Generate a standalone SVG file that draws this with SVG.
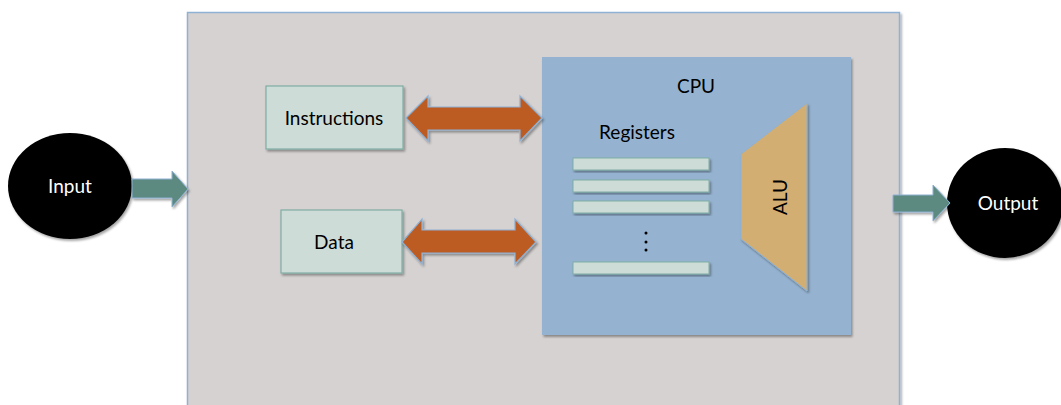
<svg xmlns="http://www.w3.org/2000/svg" width="1061" height="405" viewBox="0 0 1061 405">
<defs>
<filter id="sh" x="-10%" y="-10%" width="130%" height="130%">
<feDropShadow dx="1.5" dy="2" stdDeviation="1.2" flood-color="#000" flood-opacity="0.35"/>
</filter>
</defs>
<style>
.t{font-family:Lato,"Liberation Sans",sans-serif;font-size:19px;fill:#000;text-anchor:middle}
.w{fill:#fff}
.lbox{fill:#cddcd7;stroke:#7fada3;stroke-width:1.2}
.reg{fill:#cddcd7;stroke:#7fada3;stroke-width:1}
.oarr{fill:#bd5b24;stroke:#8fb1d3;stroke-width:1.2}
.tarr{fill:#5b8a80;stroke:#8fb1d3;stroke-width:1}
</style>
<rect width="1061" height="405" fill="#fff"/>
<g id="computer">
<rect x="187.5" y="12.5" width="712" height="400" fill="#d6d2d2" stroke="#8fb1d3" stroke-width="1.5" filter="url(#sh)"/>
</g>
<g id="cpu">
<rect x="542" y="57" width="309" height="278" fill="#95b3d1" filter="url(#sh)"/>
<text class="t" x="696" y="93">CPU</text>
<text class="t" x="637" y="139">Registers</text>
</g>
<g id="registers">
<rect class="reg" x="573" y="158" width="136" height="12" filter="url(#sh)"/>
<rect class="reg" x="573" y="180" width="136" height="12" filter="url(#sh)"/>
<rect class="reg" x="573" y="201" width="136" height="12" filter="url(#sh)"/>
<rect class="reg" x="573" y="262" width="136" height="12" filter="url(#sh)"/>
<circle cx="646" cy="233" r="1.5" fill="#000"/>
<circle cx="646" cy="242" r="1.5" fill="#000"/>
<circle cx="646" cy="250" r="1.5" fill="#000"/>
</g>
<g id="alu">
<polygon points="741,154 807,103 807,291 741,239" fill="#d2ae72" stroke="#8fb1d3" stroke-width="1" filter="url(#sh)"/>
<text class="t" transform="translate(787,197) rotate(-90)" x="0" y="0">ALU</text>
</g>
<g id="instructions">
<rect class="lbox" x="266" y="86" width="137" height="63" filter="url(#sh)"/>
<text class="t" x="334" y="125">Instructions</text>
</g>
<g id="data">
<rect class="lbox" x="281" y="210" width="121" height="63" filter="url(#sh)"/>
<text class="t" x="334" y="249">Data</text>
</g>
<g id="input">
<ellipse cx="70" cy="186" rx="62" ry="53" fill="#000" filter="url(#sh)"/>
<text class="t w" x="70" y="193">Input</text>
</g>
<g id="output">
<ellipse cx="1005" cy="203" rx="58" ry="55" fill="#000" filter="url(#sh)"/>
<text class="t w" x="1008" y="210">Output</text>
</g>
<g id="connectors">
<polygon class="oarr" points="406,118 428,96 428,107 520,107 520,96 542,118 520,141 520,130 428,130 428,141" filter="url(#sh)"/>
<polygon class="oarr" points="402,242 422,219 422,230 515,230 515,219 536,242 515,264 515,253 422,253 422,264" filter="url(#sh)"/>
<polygon class="tarr" points="132,179 172,179 172,171 188,189 172,207 172,198 132,198" filter="url(#sh)"/>
<polygon class="tarr" points="893,195 933,195 933,185 950,203 933,221 933,212 893,212" filter="url(#sh)"/>
</g>
</svg>
